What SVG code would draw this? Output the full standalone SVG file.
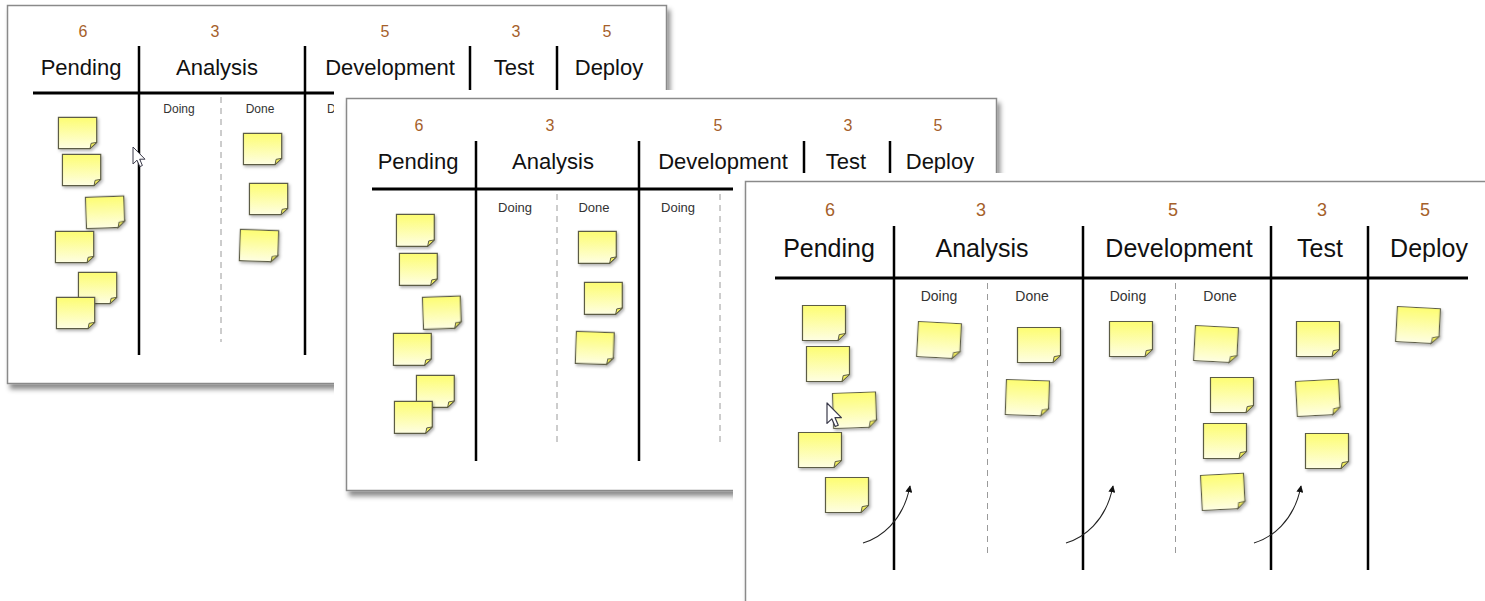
<svg xmlns="http://www.w3.org/2000/svg" xmlns:xlink="http://www.w3.org/1999/xlink" width="1485" height="601" viewBox="0 0 1485 601">
  <style>
    .frame { fill: #ffffff; stroke: #8a8a8a; stroke-width: 1.5; }
    .back { fill: #ffffff; }
    .wip { font-family: "Liberation Sans", Arial, sans-serif; fill: #a5602a; text-anchor: middle; }
    .head { font-family: "Liberation Sans", Arial, sans-serif; fill: #111111; text-anchor: middle; }
    .sub { font-family: "Liberation Sans", Arial, sans-serif; fill: #333333; text-anchor: middle; }
    .sub.cut { text-anchor: start; }
    .rule { stroke: #000000; stroke-width: 3; fill: none; }
    .col { stroke: #000000; stroke-width: 2.5; fill: none; }
    .dash { stroke: #9a9a9a; stroke-width: 1; stroke-dasharray: 6 5; fill: none; }
    .move { stroke: #222222; stroke-width: 1.1; fill: none; marker-end: url(#head); }
  </style>
  <defs>
    <filter id="panelShadow" x="-5%" y="-5%" width="115%" height="115%">
      <feDropShadow dx="3" dy="5" stdDeviation="2.5" flood-color="#000000" flood-opacity="0.45"/>
    </filter>
    <filter id="noteShadow" x="-20%" y="-20%" width="150%" height="150%">
      <feDropShadow dx="1.5" dy="2" stdDeviation="1.5" flood-color="#000000" flood-opacity="0.3"/>
    </filter>
    <linearGradient id="paper" x1="0" y1="0" x2="0" y2="1">
      <stop offset="0" stop-color="#fdfd72"/>
      <stop offset="1" stop-color="#fefee2"/>
    </linearGradient>
    <marker id="head" viewBox="0 0 10 10" refX="9" refY="5" markerWidth="7" markerHeight="7" orient="auto" markerUnits="userSpaceOnUse">
      <path d="M0,0 L10,5 L0,10 Z" fill="#111111"/>
    </marker>
    <!-- sticky note, 44 x 36, folded bottom-right corner -->
    <g id="note" filter="url(#noteShadow)">
      <path d="M0.5,0.5 H43.5 V28.5 L36,35.5 H0.5 Z" fill="url(#paper)" stroke="#5c5c44" stroke-width="1.2" vector-effect="non-scaling-stroke"/>
      <path d="M43.5,28.5 L36,35.5 L37.2,29.6 Z" fill="#f3ef5c" stroke="#5c5c44" stroke-width="1" vector-effect="non-scaling-stroke"/>
    </g>
    <!-- mouse pointer, tip at origin -->
    <path id="pointer" d="M0,0 L0,17 L4,13.2 L6.8,19.6 L9.4,18.5 L6.7,12.2 L12,12.2 Z" fill="#ffffff" stroke="#3a3a4a" stroke-width="1" stroke-linejoin="round"/>
  </defs>

  <rect width="1485" height="601" fill="#ffffff"/>

  <!-- Board snapshot 1 -->
  <g id="board-1">
    <rect class="frame" x="7.5" y="5.5" width="659" height="378" filter="url(#panelShadow)"/>
    <g id="board-1-limits">
      <text class="wip" x="83" y="37" font-size="16">6</text>
      <text class="wip" x="215" y="37" font-size="16">3</text>
      <text class="wip" x="385" y="37" font-size="16">5</text>
      <text class="wip" x="516" y="37" font-size="16">3</text>
      <text class="wip" x="607" y="37" font-size="16">5</text>
    </g>
    <g id="board-1-heads">
      <text class="head" x="81" y="75" font-size="22">Pending</text>
      <text class="head" x="217" y="75" font-size="22">Analysis</text>
      <text class="head" x="390" y="75" font-size="22">Development</text>
      <text class="head" x="514" y="75" font-size="22">Test</text>
      <text class="head" x="609" y="75" font-size="22">Deploy</text>
    </g>
    <line class="rule" x1="33" y1="93" x2="340" y2="93"/>
    <line class="col" x1="139" y1="46" x2="139" y2="355"/>
    <line class="col" x1="305" y1="46" x2="305" y2="355"/>
    <line class="col" x1="470" y1="46" x2="470" y2="95"/>
    <line class="col" x1="557" y1="46" x2="557" y2="95"/>
    <line class="dash" x1="221" y1="97" x2="221" y2="342"/>
    <text class="sub" x="179" y="113" font-size="12">Doing</text>
    <text class="sub" x="260" y="113" font-size="12">Done</text>
    <text class="sub cut" x="327" y="113" font-size="12">Doing</text>
    <g id="board-1-notes">
      <use xlink:href="#note" transform="translate(58,117) scale(0.89)"/>
      <use xlink:href="#note" transform="translate(62,154) scale(0.89)"/>
      <use xlink:href="#note" transform="translate(85,197) rotate(-2) scale(0.89)"/>
      <use xlink:href="#note" transform="translate(55,231) scale(0.89)"/>
      <use xlink:href="#note" transform="translate(78,272) scale(0.89)"/>
      <use xlink:href="#note" transform="translate(56,297) scale(0.89)"/>
      <use xlink:href="#note" transform="translate(243,133) scale(0.89)"/>
      <use xlink:href="#note" transform="translate(249,183) scale(0.89)"/>
      <use xlink:href="#note" transform="translate(240,229) rotate(2) scale(0.89)"/>
    </g>
    <use xlink:href="#pointer" transform="translate(133,147)"/>
  </g>

  <!-- Board snapshot 2 -->
  <g id="board-2">
    <rect class="back" x="334" y="90" width="662" height="401"/>
    <rect class="frame" x="346.5" y="98.5" width="650" height="392" filter="url(#panelShadow)"/>
    <g id="board-2-limits">
      <text class="wip" x="419" y="131" font-size="16">6</text>
      <text class="wip" x="550" y="131" font-size="16">3</text>
      <text class="wip" x="718" y="131" font-size="16">5</text>
      <text class="wip" x="848" y="131" font-size="16">3</text>
      <text class="wip" x="938" y="131" font-size="16">5</text>
    </g>
    <g id="board-2-heads">
      <text class="head" x="418" y="169" font-size="22">Pending</text>
      <text class="head" x="553" y="169" font-size="22">Analysis</text>
      <text class="head" x="723" y="169" font-size="22">Development</text>
      <text class="head" x="846" y="169" font-size="22">Test</text>
      <text class="head" x="940" y="169" font-size="22">Deploy</text>
    </g>
    <line class="rule" x1="372" y1="189" x2="740" y2="189"/>
    <line class="col" x1="476" y1="141" x2="476" y2="461"/>
    <line class="col" x1="639" y1="141" x2="639" y2="461"/>
    <line class="col" x1="804" y1="141" x2="804" y2="176"/>
    <line class="col" x1="890" y1="141" x2="890" y2="176"/>
    <line class="dash" x1="557" y1="194" x2="557" y2="447"/>
    <line class="dash" x1="720" y1="194" x2="720" y2="447"/>
    <text class="sub" x="515" y="212" font-size="13">Doing</text>
    <text class="sub" x="594" y="212" font-size="13">Done</text>
    <text class="sub" x="678" y="212" font-size="13">Doing</text>
    <g id="board-2-notes">
      <use xlink:href="#note" transform="translate(396,214) scale(0.88,0.91)"/>
      <use xlink:href="#note" transform="translate(399,253) scale(0.88,0.91)"/>
      <use xlink:href="#note" transform="translate(422,297) rotate(-2) scale(0.88,0.91)"/>
      <use xlink:href="#note" transform="translate(393,333) scale(0.88,0.91)"/>
      <use xlink:href="#note" transform="translate(416,375) scale(0.88,0.91)"/>
      <use xlink:href="#note" transform="translate(394,401) scale(0.88,0.91)"/>
      <use xlink:href="#note" transform="translate(578,231) scale(0.88,0.91)"/>
      <use xlink:href="#note" transform="translate(584,282) scale(0.88,0.91)"/>
      <use xlink:href="#note" transform="translate(576,331) rotate(2) scale(0.88,0.91)"/>
    </g>
  </g>

  <!-- Board snapshot 3 -->
  <g id="board-3">
    <rect class="back" x="733" y="173" width="752" height="428"/>
    <rect class="frame" x="745.5" y="181.5" width="745" height="430" filter="url(#panelShadow)"/>
    <g id="board-3-limits">
      <text class="wip" x="830" y="216" font-size="18">6</text>
      <text class="wip" x="981" y="216" font-size="18">3</text>
      <text class="wip" x="1173" y="216" font-size="18">5</text>
      <text class="wip" x="1322" y="216" font-size="18">3</text>
      <text class="wip" x="1425" y="216" font-size="18">5</text>
    </g>
    <g id="board-3-heads">
      <text class="head" x="829" y="257" font-size="25">Pending</text>
      <text class="head" x="982" y="257" font-size="25">Analysis</text>
      <text class="head" x="1179" y="257" font-size="25">Development</text>
      <text class="head" x="1320" y="257" font-size="25">Test</text>
      <text class="head" x="1429" y="257" font-size="25">Deploy</text>
    </g>
    <line class="rule" x1="775" y1="278" x2="1468" y2="278"/>
    <line class="col" x1="894" y1="226" x2="894" y2="570"/>
    <line class="col" x1="1083" y1="226" x2="1083" y2="570"/>
    <line class="col" x1="1271" y1="226" x2="1271" y2="570"/>
    <line class="col" x1="1368" y1="226" x2="1368" y2="570"/>
    <line class="dash" x1="987.5" y1="283" x2="987.5" y2="556"/>
    <line class="dash" x1="1175.5" y1="283" x2="1175.5" y2="556"/>
    <text class="sub" x="939" y="301" font-size="14">Doing</text>
    <text class="sub" x="1032" y="301" font-size="14">Done</text>
    <text class="sub" x="1128" y="301" font-size="14">Doing</text>
    <text class="sub" x="1220" y="301" font-size="14">Done</text>
    <g id="board-3-notes">
      <use xlink:href="#note" transform="translate(802,305)"/>
      <use xlink:href="#note" transform="translate(806,346)"/>
      <use xlink:href="#note" transform="translate(832,393) rotate(-2)"/>
      <use xlink:href="#note" transform="translate(798,432)"/>
      <use xlink:href="#note" transform="translate(825,477)"/>
      <use xlink:href="#note" transform="translate(918,321) rotate(3)"/>
      <use xlink:href="#note" transform="translate(1017,327)"/>
      <use xlink:href="#note" transform="translate(1006,379) rotate(2)"/>
      <use xlink:href="#note" transform="translate(1109,321)"/>
      <use xlink:href="#note" transform="translate(1195,325) rotate(3)"/>
      <use xlink:href="#note" transform="translate(1210,377)"/>
      <use xlink:href="#note" transform="translate(1203,423)"/>
      <use xlink:href="#note" transform="translate(1200,475) rotate(-3)"/>
      <use xlink:href="#note" transform="translate(1296,321)"/>
      <use xlink:href="#note" transform="translate(1295,381) rotate(-3)"/>
      <use xlink:href="#note" transform="translate(1305,433)"/>
      <use xlink:href="#note" transform="translate(1397,306) rotate(3)"/>
    </g>
    <use xlink:href="#pointer" transform="translate(827,403) scale(1.2)"/>
  </g>

  <!-- pull arrows between columns -->
  <g id="connectors">
    <path class="move" d="M863,543 C880,538 903,522 910,486"/>
    <path class="move" d="M1066,543 C1083,538 1106,522 1113,486"/>
    <path class="move" d="M1254,543 C1271,538 1294,522 1301,486"/>
  </g>
</svg>
